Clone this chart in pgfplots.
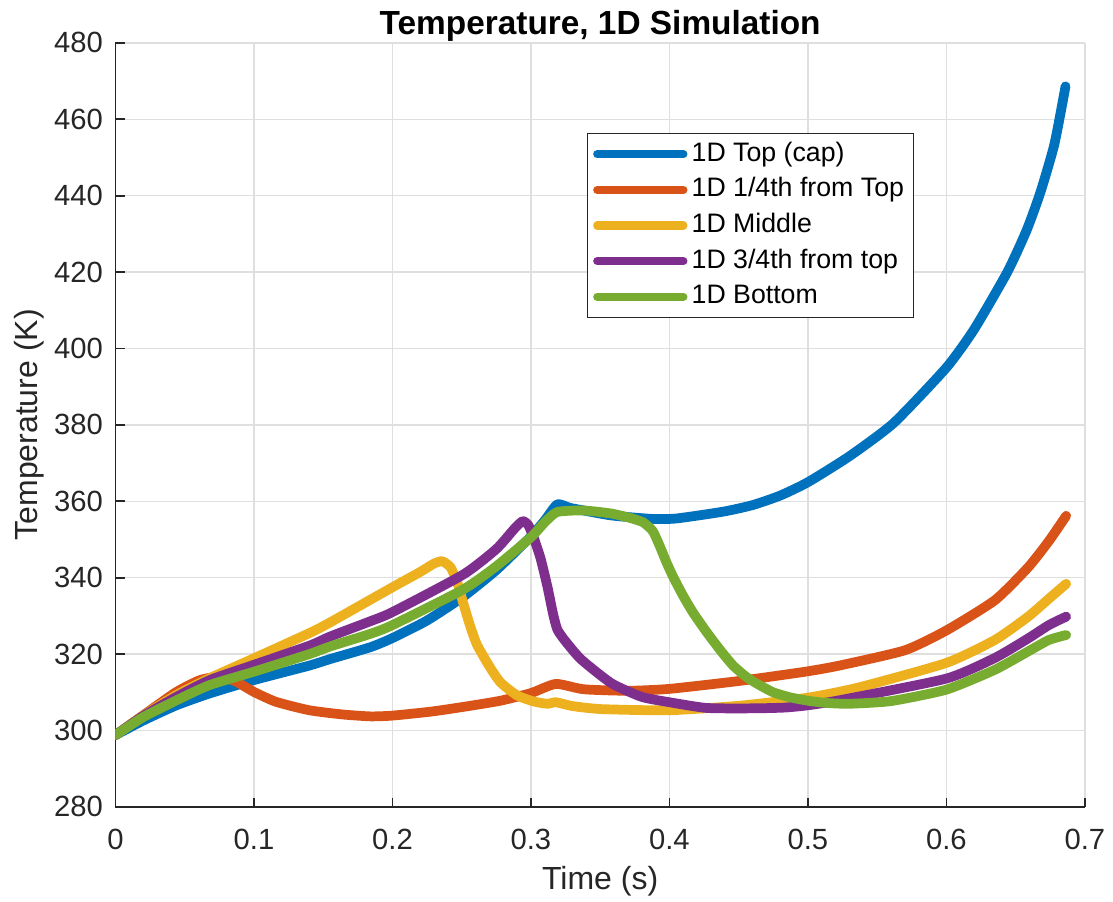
\documentclass[border=0pt]{standalone}
\usepackage{pgfplots}
\pgfplotsset{compat=1.18}
\usepackage{fontspec}
\setmainfont{Liberation Sans}
\definecolor{mblue}{RGB}{0,114,189}
\definecolor{morange}{RGB}{217,83,25}
\definecolor{myellow}{RGB}{237,177,32}
\definecolor{mpurple}{RGB}{126,47,142}
\definecolor{mgreen}{RGB}{119,172,48}
\definecolor{axcol}{RGB}{38,38,38}
\definecolor{gridcol}{RGB}{223,223,223}
\begin{document}
\begin{tikzpicture}
\useasboundingbox (-41.5pt,-34.1pt) rectangle (358.5pt,290.0pt);
\begin{axis}[
  scale only axis,
  width=348.4pt, height=274.6pt,
  xmin=0, xmax=0.7, ymin=280, ymax=480,
  xtick={0,0.1,0.2,0.3,0.4,0.5,0.6,0.7},
  ytick={280,300,320,340,360,380,400,420,440,460,480},
  axis x line*=bottom, axis y line*=left,
  axis line style={-, draw=axcol, line width=0.6pt},
  tick align=inside,
  major tick length=3.3pt,
  tick style={draw=axcol, line width=0.6pt},
  grid=major,
  major grid style={draw=gridcol, line width=0.5pt},
  /pgf/number format/assume math mode=true,
  ticklabel style={font=\fontsize{10.5}{12}\selectfont, text=axcol},
  xticklabel style={yshift=-4.5pt},
  yticklabel style={xshift=-1pt},
  title={Temperature, 1D Simulation},
  title style={at={(axis description cs:0.5,1.011)}, anchor=base, yshift=-6pt, font=\bfseries\fontsize{12}{14}\selectfont, inner sep=0pt},
  xlabel={Time (s)},
  xlabel style={at={(axis description cs:0.5,-0.1086)}, anchor=base, font=\fontsize{11.5}{13}\selectfont, text=axcol, inner sep=0pt},
  ylabel={Temperature (K)},
  ylabel style={at={(axis description cs:-0.080,0.5)}, anchor=base, font=\fontsize{11.5}{13}\selectfont, text=axcol, inner sep=0pt},
  legend cell align=left,
  legend image code/.code={\draw[#1, line width=2.9pt] (0pt,0pt) -- (31pt,0pt);},
  legend style={at={(axis description cs:0.4863,0.882)}, anchor=north west,
    draw=axcol, line width=0.5pt, fill=white,
    font=\fontsize{9.6}{11}\selectfont,
    inner xsep=2pt, inner ysep=1pt, row sep=0pt,
    nodes={inner xsep=1.5pt, inner ysep=1.9pt, text height=7pt, text depth=2pt}},
  every axis plot/.append style={line width=3.5pt, line join=round, line cap=round, smooth, tension=0.35},
]
\addplot[mblue] coordinates {
(0,298.8) (0.02,302.6) (0.044,306.6) (0.068,309.7) (0.1,313.2) (0.14,317.0)
(0.155,318.7) (0.184,321.8) (0.2,324.2) (0.225,328.8) (0.251,335.0) (0.275,342.0)
(0.3,350.8) (0.31,355.0) (0.319,359.2) (0.328,358.3) (0.338,357.6) (0.358,356.3)
(0.387,355.4) (0.405,355.5) (0.439,357.3) (0.46,359.0) (0.48,361.5) (0.5,365.0)
(0.53,371.8) (0.562,380.5) (0.6,395.0) (0.62,405.0) (0.644,420.0) (0.658,431.0)
(0.668,441.0) (0.678,453.5) (0.686,468.6)};
\addlegendentry{1D Top (cap)}
\addplot[morange] coordinates {
(0,298.8) (0.02,304.0) (0.044,310.1) (0.061,313.2) (0.075,314.1) (0.087,312.8)
(0.1,310.1) (0.116,307.5) (0.14,305.3) (0.164,304.2) (0.184,303.7) (0.2,303.9)
(0.229,305.0) (0.255,306.4) (0.278,307.8) (0.3,309.8) (0.318,312.2) (0.338,310.8)
(0.37,310.4) (0.4,310.9) (0.451,313.0) (0.5,315.5) (0.524,317.1) (0.57,321.0)
(0.6,326.2) (0.635,334.1) (0.659,342.7) (0.674,349.6) (0.6865,356.2)};
\addlegendentry{1D 1/4th from Top}
\addplot[myellow] coordinates {
(0,298.8) (0.02,303.9) (0.044,309.3) (0.068,313.7) (0.1,318.9) (0.14,325.5)
(0.155,328.3) (0.2,337.5) (0.22,341.5) (0.23,343.7) (0.236,344.3) (0.242,342.7)
(0.247,338.5) (0.251,333.5) (0.256,327.5) (0.261,322.5) (0.27,316.8) (0.278,312.6)
(0.29,309.2) (0.302,307.6) (0.312,307.0) (0.318,307.4) (0.33,306.4) (0.351,305.6)
(0.4,305.3) (0.451,306.5) (0.5,308.6) (0.537,311.3) (0.6,317.7) (0.635,323.7)
(0.659,329.8) (0.674,334.5) (0.6865,338.4)};
\addlegendentry{1D Middle}
\addplot[mpurple] coordinates {
(0,298.8) (0.02,303.8) (0.044,308.8) (0.068,313.2) (0.1,317.2) (0.14,322.2)
(0.155,324.6) (0.184,328.6) (0.2,331.0) (0.251,340.8) (0.275,347.5) (0.288,352.8)
(0.294,354.8) (0.298,353.8) (0.302,350.5) (0.307,345.0) (0.312,337.5) (0.316,330.5)
(0.319,326.5) (0.324,323.8) (0.336,318.7) (0.358,312.4) (0.38,308.8) (0.4,307.4)
(0.427,305.9) (0.46,305.8) (0.483,306.0) (0.5,306.6) (0.524,308.0) (0.6,313.6)
(0.635,319.0) (0.659,324.1) (0.674,327.6) (0.6865,329.8)};
\addlegendentry{1D 3/4th from top}
\addplot[mgreen] coordinates {
(0,298.8) (0.02,303.5) (0.044,307.9) (0.068,311.9) (0.1,315.4) (0.14,320.0)
(0.155,322.0) (0.184,325.3) (0.2,327.6) (0.251,336.9) (0.275,343.0) (0.3,350.6)
(0.31,354.5) (0.319,357.2) (0.338,357.6) (0.358,356.8) (0.372,355.6) (0.381,354.5)
(0.388,352.2) (0.393,348.3) (0.398,343.9) (0.403,340.0) (0.41,335.2) (0.417,330.9)
(0.427,325.7) (0.437,320.9) (0.446,317.0) (0.456,313.9) (0.466,311.7) (0.475,310.0)
(0.487,308.7) (0.5,307.8) (0.514,307.2) (0.53,307.0) (0.56,307.7) (0.6,310.7)
(0.635,315.9) (0.659,320.7) (0.674,323.7) (0.6865,325.0)};
\addlegendentry{1D Bottom}
\end{axis}
\end{tikzpicture}
\end{document}
